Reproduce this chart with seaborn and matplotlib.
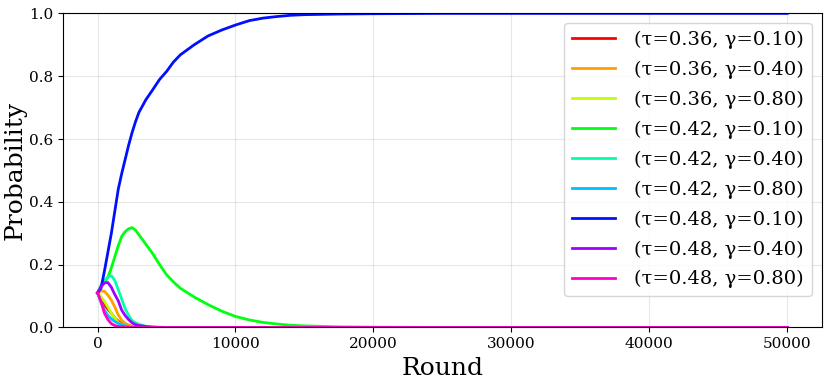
import numpy as np
import pandas as pd
import matplotlib
matplotlib.use('Agg')
import matplotlib.pyplot as plt
import seaborn as sns

plt.rcParams.update({'font.family': 'DejaVu Serif'})

# ── Data ──────────────────────────────────────────────────────────────────
ROUNDS = [0, 250, 500, 750, 1000, 1250, 1500, 1750, 2000, 2250, 2500, 2750,
          3000, 3500, 4000, 4500, 5000, 5500, 6000, 7000, 8000, 9000, 10000,
          11000, 12000, 13000, 14000, 15000, 17500, 20000, 25000, 30000, 40000, 50000]

t36_g10 = [0.11, 0.090, 0.072, 0.058, 0.045, 0.030, 0.020, 0.011, 0.006, 0.004, 0.002, 0.001,
           0.001, 0, 0, 0, 0, 0, 0, 0, 0, 0, 0,
           0, 0, 0, 0, 0, 0, 0, 0, 0, 0, 0]
t36_g40 = [0.11, 0.117, 0.115, 0.103, 0.087, 0.065, 0.040, 0.023, 0.013, 0.008, 0.005, 0.003,
           0.002, 0.001, 0, 0, 0, 0, 0, 0, 0, 0, 0,
           0, 0, 0, 0, 0, 0, 0, 0, 0, 0, 0]
t36_g80 = [0.11, 0.098, 0.083, 0.065, 0.045, 0.030, 0.016, 0.009, 0.005, 0.003, 0.002, 0.001,
           0.001, 0, 0, 0, 0, 0, 0, 0, 0, 0, 0,
           0, 0, 0, 0, 0, 0, 0, 0, 0, 0, 0]
t42_g10 = [0.11, 0.130, 0.145, 0.160, 0.190, 0.225, 0.260, 0.290, 0.305, 0.314, 0.318, 0.310,
           0.295, 0.265, 0.235, 0.200, 0.168, 0.145, 0.125, 0.097, 0.073, 0.052, 0.035,
           0.024, 0.016, 0.011, 0.007, 0.005, 0.002, 0.001, 0, 0, 0, 0]
t42_g40 = [0.11, 0.135, 0.150, 0.160, 0.165, 0.150, 0.120, 0.090, 0.060, 0.038, 0.022, 0.015,
           0.010, 0.004, 0.002, 0.001, 0, 0, 0, 0, 0, 0, 0,
           0, 0, 0, 0, 0, 0, 0, 0, 0, 0, 0]
t42_g80 = [0.11, 0.080, 0.055, 0.038, 0.027, 0.019, 0.013, 0.008, 0.005, 0.003, 0.002, 0.001,
           0.001, 0, 0, 0, 0, 0, 0, 0, 0, 0, 0,
           0, 0, 0, 0, 0, 0, 0, 0, 0, 0, 0]
t48_g10 = [0.11, 0.125, 0.180, 0.240, 0.300, 0.370, 0.440, 0.490, 0.535, 0.580, 0.620, 0.655,
           0.685, 0.725, 0.757, 0.790, 0.815, 0.845, 0.868, 0.900, 0.928, 0.947, 0.963,
           0.977, 0.985, 0.990, 0.994, 0.996, 0.998, 0.999, 1.0, 1.0, 1.0, 1.0]
t48_g40 = [0.11, 0.130, 0.142, 0.143, 0.128, 0.105, 0.085, 0.055, 0.038, 0.025, 0.015, 0.009,
           0.006, 0.003, 0.001, 0, 0, 0, 0, 0, 0, 0, 0,
           0, 0, 0, 0, 0, 0, 0, 0, 0, 0, 0]
t48_g80 = [0.11, 0.082, 0.045, 0.025, 0.012, 0.006, 0.003, 0.002, 0.001, 0, 0, 0,
           0, 0, 0, 0, 0, 0, 0, 0, 0, 0, 0,
           0, 0, 0, 0, 0, 0, 0, 0, 0, 0, 0]

LABELS = ['(τ=0.36, γ=0.10)', '(τ=0.36, γ=0.40)', '(τ=0.36, γ=0.80)',
          '(τ=0.42, γ=0.10)', '(τ=0.42, γ=0.40)', '(τ=0.42, γ=0.80)',
          '(τ=0.48, γ=0.10)', '(τ=0.48, γ=0.40)', '(τ=0.48, γ=0.80)']
SERIES = [t36_g10, t36_g40, t36_g80, t42_g10, t42_g40, t42_g80,
          t48_g10, t48_g40, t48_g80]
COLORS = ['#ff0000', '#ff9f00', '#c0ff00', '#00ff10', '#00ffa8',
          '#00bfff', '#0010ff', '#a000ff', '#ff00c8']

df = pd.concat([pd.DataFrame({'Round': ROUNDS, 'Probability': s, 'config': lab})
                for lab, s in zip(LABELS, SERIES)], ignore_index=True)

# ── Plot ──────────────────────────────────────────────────────────────────
fig, ax = plt.subplots(figsize=(8.3, 3.83), dpi=100)
sns.lineplot(data=df, x='Round', y='Probability', hue='config', hue_order=LABELS,
             palette=COLORS, linewidth=2, ax=ax, legend=False)

for lab, c in zip(LABELS, COLORS):
    ax.plot([], [], color=c, lw=2, label=lab)
ax.legend(loc='upper right', fontsize=14, labelspacing=0.6, handletextpad=1.0,
          handlelength=2.2)

ax.set_ylim(0, 1)
ax.set_xlabel('Round', fontsize=18)
ax.set_ylabel('Probability', fontsize=18, labelpad=2)
ax.tick_params(labelsize=11)
ax.grid(True, alpha=0.3)

fig.subplots_adjust(left=0.076, right=0.99, top=0.965, bottom=0.145)
fig.savefig('out.png')
